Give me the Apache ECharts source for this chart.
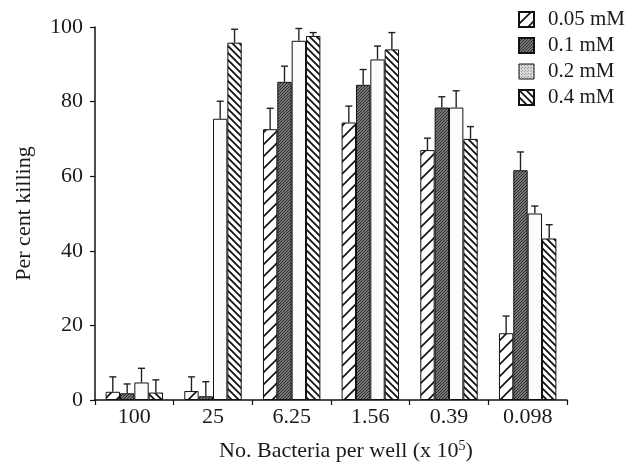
<!DOCTYPE html>
<html><head><meta charset="utf-8">
<script src="https://cdn.jsdelivr.net/npm/echarts@6/dist/echarts.min.js"></script>
<style>html,body{margin:0;padding:0;background:#fff}#c{width:636px;height:462px}</style>
</head><body><div id="c"></div>
<script>
const categories = ['100', '25', '6.25', '1.56', '0.39', '0.098'];
const seriesNames = ['0.05 mM', '0.1 mM', '0.2 mM', '0.4 mM'];
const v005 = [2.2, 2.4, 72.6, 74.4, 67.0, 17.9];
const e005 = [4.0, 3.8, 5.6, 4.4, 3.2, 4.6];
const v01 = [1.8, 1.0, 85.3, 84.5, 78.4, 61.6];
const e01 = [2.5, 3.9, 4.2, 4.1, 2.9, 4.9];
const v02 = [4.7, 75.4, 96.3, 91.3, 78.4, 50.0];
const e02 = [3.8, 4.7, 3.3, 3.6, 4.5, 2.0];
const v04 = [2.0, 95.8, 97.6, 94.0, 70.0, 43.3];
const e04 = [3.4, 3.6, 0.9, 4.5, 3.3, 3.7];
const yTicks = [0, 20, 40, 60, 80, 100];

function pattern(kind) {
  const c = document.createElement('canvas');
  let s;
  const ctx0 = () => c.getContext('2d');
  if (kind === 'fwd') {
    s = 12; c.width = c.height = s; const ctx = ctx0();
    ctx.fillStyle = '#fff'; ctx.fillRect(0, 0, s, s);
    ctx.strokeStyle = '#111'; ctx.lineWidth = 1.6;
    ctx.beginPath();
    ctx.moveTo(0, s); ctx.lineTo(s, 0);
    ctx.moveTo(-2, 2); ctx.lineTo(2, -2);
    ctx.moveTo(s - 2, s + 2); ctx.lineTo(s + 2, s - 2);
    ctx.stroke();
  } else if (kind === 'back') {
    s = 7; c.width = c.height = s; const ctx = ctx0();
    ctx.fillStyle = '#fff'; ctx.fillRect(0, 0, s, s);
    ctx.strokeStyle = '#111'; ctx.lineWidth = 1.8;
    ctx.beginPath();
    ctx.moveTo(0, 0); ctx.lineTo(s, s);
    ctx.moveTo(-2, s - 2); ctx.lineTo(2, s + 2);
    ctx.moveTo(s - 2, -2); ctx.lineTo(s + 2, 2);
    ctx.stroke();
  } else if (kind === 'dark') {
    s = 3; c.width = c.height = s; const ctx = ctx0();
    ctx.fillStyle = '#777'; ctx.fillRect(0, 0, s, s);
    ctx.fillStyle = '#2e2e2e'; ctx.fillRect(0, 0, 1, 1); ctx.fillRect(2, 1, 1, 1); ctx.fillRect(1, 2, 1, 1);
  } else {
    s = 3; c.width = c.height = s; const ctx = ctx0();
    ctx.fillStyle = '#d8d8d8'; ctx.fillRect(0, 0, s, s);
    ctx.fillStyle = '#999'; ctx.fillRect(0, 0, 1, 1); ctx.fillRect(2, 1, 1, 1);
  }
  return { image: c, repeat: 'repeat' };
}

const fills = [pattern('fwd'), pattern('dark'), '#fcfcfc', pattern('back')];
const values = [v005, v01, v02, v04];
const errs = [e005, e01, e02, e04];
const GAP = 0.27;

const barSeries = seriesNames.map((n, i) => ({
  name: n, type: 'bar', data: values[i],
  barGap: '0%', barCategoryGap: (GAP * 100) + '%',
  itemStyle: { color: fills[i], borderColor: '#111', borderWidth: 1 },
  emphasis: { disabled: true }
}));

const errData = [];
values.forEach((vals, s) => vals.forEach((v, k) => errData.push([k, v, v + errs[s][k], s])));

const errSeries = {
  type: 'custom', name: 'err', data: errData, z: 5, silent: true,
  renderItem: function (params, api) {
    const k = api.value(0), s = api.value(3);
    const b = api.coord([k, api.value(1)]);
    const t = api.coord([k, api.value(2)]);
    const band = api.size([1, 0])[0];
    const bw = band * (1 - GAP) / 4;
    const x = b[0] + (s - 1.5) * bw;
    const st = { stroke: '#222', lineWidth: 1.4 };
    return { type: 'group', children: [
      { type: 'line', shape: { x1: x, y1: b[1], x2: x, y2: t[1] }, style: st },
      { type: 'line', shape: { x1: x - 3.5, y1: t[1], x2: x + 3.5, y2: t[1] }, style: st }
    ]};
  }
};

const font = 'Liberation Serif';
const chart = echarts.init(document.getElementById('c'), null, { renderer: 'canvas' });
chart.setOption({
  animation: false,
  backgroundColor: '#fff',
  grid: { left: 95, right: 69, top: 27, bottom: 62, containLabel: false, outerBoundsMode: 'none' },
  legend: {
    data: seriesNames.map((n, i) => ({
      name: n, icon: 'rect',
      itemStyle: i === 2 ? { color: pattern('light'), borderColor: '#111', borderWidth: 1 } : undefined
    })),
    orient: 'vertical', left: 513, top: 4, itemWidth: 15, itemHeight: 15, itemGap: 5,
    selectedMode: false,
    textStyle: { fontFamily: font, fontSize: 21, color: '#1a1a1a', padding: [0, 0, 0, 9] }
  },
  xAxis: {
    type: 'category', data: categories,
    name: 'No. Bacteria per well (x 10{sup|5})',
    nameLocation: 'middle', nameGap: 39,
    nameTextStyle: { fontFamily: font, fontSize: 22, color: '#1a1a1a', padding: [0, 0, 0, 30],
      rich: { sup: { fontFamily: font, fontSize: 14, verticalAlign: 'bottom', padding: [0, 0, 11, 0], color: '#1a1a1a' } } },
    axisLine: { lineStyle: { color: '#111', width: 1.5 } },
    axisTick: { show: true, length: 5, alignWithLabel: false, lineStyle: { color: '#111', width: 1.2 } },
    axisLabel: { fontFamily: font, fontSize: 22, color: '#1a1a1a', margin: 6 }
  },
  yAxis: {
    type: 'value', min: 0, max: 100, interval: 20,
    name: 'Per cent killing', nameLocation: 'middle', nameGap: 60,
    nameTextStyle: { fontFamily: font, fontSize: 22, color: '#1a1a1a' },
    axisLine: { show: true, lineStyle: { color: '#111', width: 1.5 } },
    axisTick: { show: true, length: 5, lineStyle: { color: '#111', width: 1.2 } },
    axisLabel: { fontFamily: font, fontSize: 22, color: '#1a1a1a', margin: 12,
      formatter: v => yTicks.includes(v) ? String(v) : '' },
    splitLine: { show: false }
  },
  series: [...barSeries, errSeries]
});
</script></body></html>
